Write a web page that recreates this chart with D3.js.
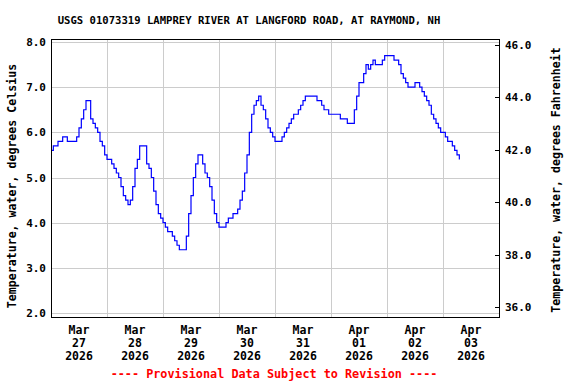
<!DOCTYPE html>
<html>
<head>
<meta charset="utf-8">
<script src="https://cdn.jsdelivr.net/npm/d3@7"></script>
<style>
  body { margin: 0; background: #fff; }
  svg text { font-family: "DejaVu Sans Mono", monospace; font-weight: bold; }
</style>
</head>
<body>
<div id="chart"></div>
<script>
// hourly readings, degrees Celsius, one array per day (starting 00:00)
const dayLabels = ["Mar 27", "Mar 28", "Mar 29", "Mar 30", "Mar 31", "Apr 01", "Apr 02", "Apr 03"];
const mar27 = [5.6,5.7,5.7,5.8,5.8,5.9,5.9,5.8,5.8,5.8,5.8,5.9,6.1,6.3,6.5,6.7,6.7,6.3,6.2,6.1,6.0,5.8,5.7,5.5];
const mar28 = [5.4,5.4,5.3,5.2,5.1,5.0,4.8,4.6,4.5,4.4,4.5,4.8,5.2,5.4,5.7,5.7,5.7,5.3,5.2,5.0,4.7,4.4,4.2,4.1];
const mar29 = [4.0,3.9,3.8,3.8,3.7,3.6,3.5,3.4,3.4,3.4,3.7,4.2,4.6,5.0,5.3,5.5,5.5,5.3,5.1,5.0,4.8,4.5,4.2,4.0];
const mar30 = [3.9,3.9,3.9,4.0,4.1,4.1,4.2,4.2,4.3,4.5,4.7,5.1,5.5,6.0,6.4,6.6,6.7,6.8,6.6,6.5,6.3,6.1,6.0,5.9];
const mar31 = [5.8,5.8,5.8,5.9,6.0,6.1,6.2,6.3,6.4,6.4,6.5,6.6,6.7,6.8,6.8,6.8,6.8,6.8,6.7,6.7,6.6,6.5,6.5,6.4];
const apr01 = [6.4,6.4,6.4,6.4,6.3,6.3,6.3,6.2,6.2,6.2,6.5,6.8,7.1,7.1,7.3,7.5,7.4,7.5,7.6,7.5,7.5,7.5,7.6,7.7];
const apr02 = [7.7,7.7,7.7,7.6,7.6,7.5,7.3,7.2,7.1,7.0,7.0,7.0,7.1,7.1,7.0,6.9,6.8,6.7,6.6,6.4,6.3,6.2,6.1,6.0];
const apr03 = [6.0,5.9,5.8,5.8,5.7,5.6,5.5,5.4];

const leftTicks = [2.0, 3.0, 4.0, 5.0, 6.0, 7.0, 8.0];
const rightTicks = [36.0, 38.0, 40.0, 42.0, 44.0, 46.0];
const year = 2026;

const days = [mar27, mar28, mar29, mar30, mar31, apr01, apr02, apr03];
const start = Date.UTC(2026, 2, 27);
const data = [];
days.forEach(function(vals, d) {
  vals.forEach(function(v, h) {
    data.push({ t: new Date(start + (d * 24 + h) * 3600000), v: v });
  });
});

const W = 576, H = 384;
const m = { left: 51, right: 499, top: 39, bottom: 317 };

const svg = d3.select("#chart").append("svg").attr("width", W).attr("height", H);

const x = d3.scaleUtc()
  .domain([new Date(start), new Date(Date.UTC(2026, 3, 4))])
  .range([m.left, m.right]);
const y = d3.scaleLinear().domain([2, 8]).range([313, 42]);
const yF = d3.scaleLinear().domain([36, 46]).range([307, 45]);

// grid
const dayStarts = d3.utcDay.range(new Date(start + 86400000), new Date(Date.UTC(2026, 3, 4)));
svg.append("g").selectAll("line").data(leftTicks).enter().append("line")
  .attr("x1", m.left).attr("x2", m.right)
  .attr("y1", function(d) { return Math.round(y(d)) + 0.5; })
  .attr("y2", function(d) { return Math.round(y(d)) + 0.5; })
  .attr("stroke", "#cccccc").attr("stroke-width", 1);
svg.append("g").selectAll("line").data(dayStarts).enter().append("line")
  .attr("y1", m.top).attr("y2", m.bottom)
  .attr("x1", function(d) { return Math.round(x(d)) + 0.5; })
  .attr("x2", function(d) { return Math.round(x(d)) + 0.5; })
  .attr("stroke", "#cccccc").attr("stroke-width", 1);

// data line
const line = d3.line()
  .x(function(d) { return x(d.t); })
  .y(function(d) { return y(d.v); })
  .curve(d3.curveStepAfter);
svg.append("path").datum(data)
  .attr("d", line)
  .attr("fill", "none")
  .attr("stroke", "#0000ff")
  .attr("stroke-width", 1.2);

// frame
svg.append("rect")
  .attr("x", m.left + 0.5).attr("y", m.top + 0.5)
  .attr("width", m.right - m.left).attr("height", m.bottom - m.top)
  .attr("fill", "none").attr("stroke", "#000").attr("stroke-width", 1);

// left axis labels
svg.append("g").selectAll("text").data(leftTicks).enter().append("text")
  .attr("x", 46).attr("y", function(d) { return y(d) + 4; })
  .attr("text-anchor", "end").attr("font-size", 11)
  .text(function(d) { return d.toFixed(1); });

// right axis: inward ticks + labels
svg.append("g").selectAll("line").data(rightTicks).enter().append("line")
  .attr("x1", m.right - 4).attr("x2", m.right)
  .attr("y1", function(d) { return Math.round(yF(d)) + 0.5; })
  .attr("y2", function(d) { return Math.round(yF(d)) + 0.5; })
  .attr("stroke", "#000");
svg.append("g").selectAll("text").data(rightTicks).enter().append("text")
  .attr("x", 505).attr("y", function(d) { return yF(d) + 4; })
  .attr("font-size", 11)
  .text(function(d) { return d.toFixed(1); });

// day labels at noon
const dl = svg.append("g").selectAll("text").data(dayLabels).enter().append("text")
  .attr("text-anchor", "middle").attr("font-size", 11.5)
  .attr("transform", function(d, i) {
    return "translate(" + x(new Date(start + (i * 24 + 12) * 3600000)) + ",0)";
  });
dl.append("tspan").attr("x", 0).attr("y", 334).text(function(d) { return d.split(" ")[0]; });
dl.append("tspan").attr("x", 0).attr("y", 347).text(function(d) { return d.split(" ")[1]; });
dl.append("tspan").attr("x", 0).attr("y", 360).text(year);

// titles
svg.append("text").attr("x", 249).attr("y", 24).attr("text-anchor", "middle")
  .attr("font-size", 10.6)
  .text("USGS 01073319 LAMPREY RIVER AT LANGFORD ROAD, AT RAYMOND, NH");
svg.append("text").attr("text-anchor", "middle").attr("font-size", 11.6)
  .attr("transform", "translate(16,186) rotate(-90)")
  .text("Temperature, water, degrees Celsius");
svg.append("text").attr("text-anchor", "middle").attr("font-size", 11.6)
  .attr("transform", "translate(560,180) rotate(-90)")
  .text("Temperature, water, degrees Fahrenheit");
svg.append("text").attr("x", 274).attr("y", 378).attr("text-anchor", "middle")
  .attr("font-size", 11.8).attr("fill", "#ff0000")
  .text("---- Provisional Data Subject to Revision ----");
</script>
</body>
</html>
